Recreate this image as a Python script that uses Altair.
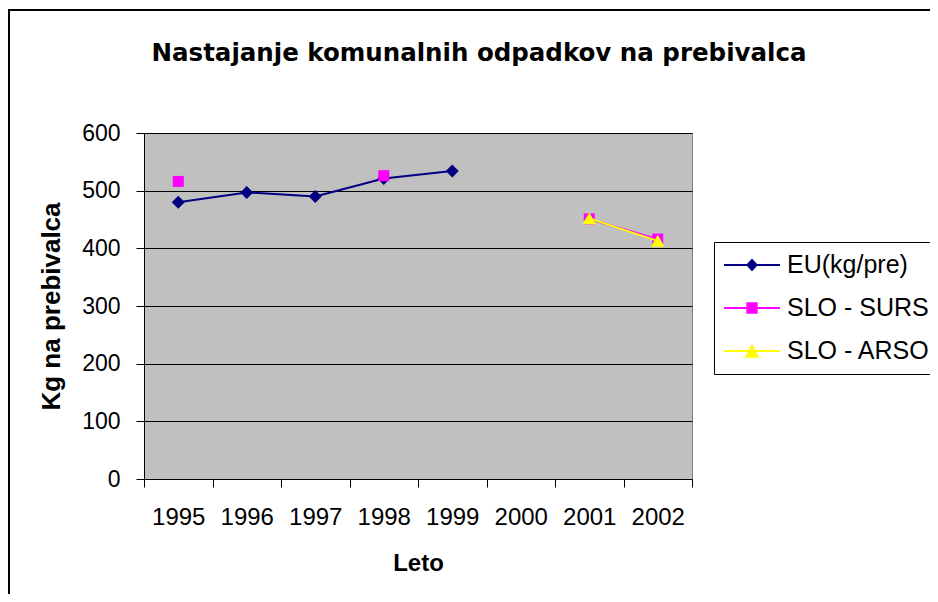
import altair as alt
import pandas as pd

# ---- data ----
years = ["1995", "1996", "1997", "1998", "1999", "2000", "2001", "2002"]
eu = [480, 497, 490, 521, 534, None, None, None]
slo_surs = [516, None, None, 526, None, None, 451, 416]
slo_arso = [None, None, None, None, None, None, 452, 413]
series_names = ["EU(kg/pre)", "SLO - SURS", "SLO - ARSO"]
series_colors = ["#000080", "#FF00FF", "#FFFF00"]
y_ticks = [0, 100, 200, 300, 400, 500, 600]

title_text = "Nastajanje komunalnih odpadkov na prebivalca"
x_title = "Leto"
y_title = "Kg na prebivalca"

# ---- styling ----
marker_shapes = ["diamond", "square", "triangle-up"]
marker_sizes = [170, 121, 190]
legend_paths = [
    "M-2.33,-0.08H2.33V0.08H-2.33Z M0,-0.54L0.49,0L0,0.54L-0.49,0Z",
    "M-2.33,-0.08H2.33V0.08H-2.33Z M-0.47,-0.47H0.47V0.47H-0.47Z",
    "M-2.33,-0.08H2.33V0.08H-2.33Z M0,-0.62L0.6,0.56H-0.6Z",
]
FONT = "Liberation Sans"

rows = []
for name, vals in zip(series_names, [eu, slo_surs, slo_arso]):
    for yr, v in zip(years, vals):
        rows.append({"year": yr, "series": name, "value": v})
df = pd.DataFrame(rows)

x_enc = alt.X(
    "year:O",
    bandPosition=0.5,
    scale=alt.Scale(type="band", domain=years, paddingInner=0, paddingOuter=0),
    axis=alt.Axis(
        title=x_title, labelAngle=0, tickBand="extent", grid=False,
        domainColor="black", tickColor="black", tickSize=8, domainWidth=1,
        labelFont=FONT, labelFontSize=24, labelColor="black", labelPadding=18,
        titleFont=FONT, titleFontSize=24, titleFontWeight="bold", titleColor="black",
        titlePadding=22,
    ),
)
y_enc = alt.Y(
    "value:Q",
    scale=alt.Scale(domain=[0, 600], nice=False, zero=True),
    axis=alt.Axis(
        title=y_title, values=y_ticks, grid=True, gridColor="black", gridOpacity=1,
        gridWidth=1, domainColor="black", tickColor="black", tickSize=8,
        labelFont=FONT, labelFontSize=23, labelColor="black", labelPadding=16,
        titleFont=FONT, titleFontSize=26, titleFontWeight="bold", titleColor="black",
        titlePadding=17,
    ),
)

layers = []

# outer chart frame
frame = alt.Chart(pd.DataFrame({"k": [0]})).mark_rect(
    fillOpacity=0, stroke="black", strokeWidth=2
).encode(x=alt.value(-135), x2=alt.value(900), y=alt.value(-123), y2=alt.value(700))
layers.append(frame)

for i, name in enumerate(series_names):
    base = alt.Chart(df).transform_filter(alt.datum.series == name)
    line = base.mark_line(
        strokeWidth=2, color=series_colors[i], invalid="break-paths-show-domains"
    ).encode(x=x_enc, y=y_enc)
    pts = base.mark_point(
        filled=True, opacity=1, shape=marker_shapes[i], size=marker_sizes[i],
        color=series_colors[i],
    ).encode(x=x_enc, y=y_enc)
    layers += [line, pts]

leg = alt.Legend(
    orient="none", legendX=570, legendY=109, title=None,
    labelFont=FONT, labelFontSize=25, labelColor="black",
    symbolSize=576, padding=10, rowPadding=17, symbolOffset=15, labelOffset=22,
    strokeColor="black", fillColor="white",
)
legend_layer = alt.Chart(df).transform_filter("false").mark_point(
    filled=True, opacity=1
).encode(
    x=x_enc, y=y_enc,
    color=alt.Color("series:N", scale=alt.Scale(domain=series_names, range=series_colors), legend=leg),
    shape=alt.Shape("series:N", scale=alt.Scale(domain=series_names, range=legend_paths), legend=leg),
)
layers.append(legend_layer)

chart = alt.layer(*layers).properties(
    width=548, height=346,
    title=alt.TitleParams(
        text=title_text, font="DejaVu Sans", fontSize=24.5, fontWeight="bold",
        color="black", anchor="middle", frame="group", dx=61,
        baseline="alphabetic", offset=-76,
    ),
    background="white",
    autosize=alt.AutoSizeParams(type="none"),
    padding={"left": 136, "top": 125, "right": 238, "bottom": 115},
).configure_view(
    fill="#C0C0C0", stroke="#808080", strokeWidth=1
)

chart.save("out.html", embed_options={"renderer": "svg", "actions": False})
